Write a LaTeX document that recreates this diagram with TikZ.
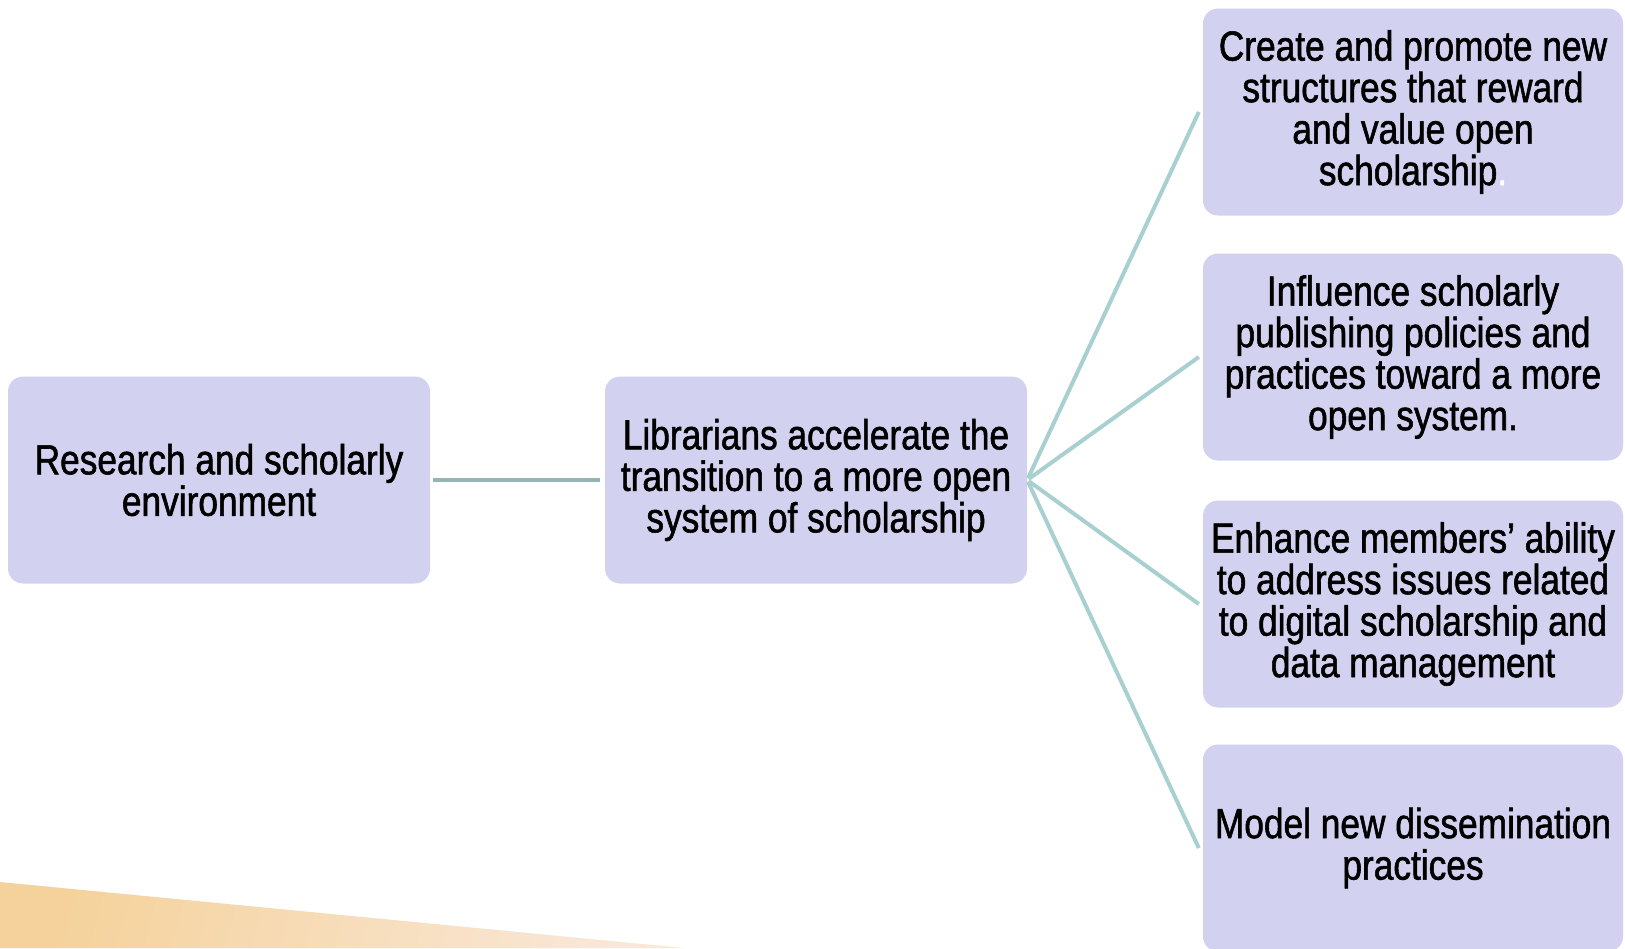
\documentclass[tikz,border=0pt]{standalone}
\usepackage{fontspec}
\setmainfont{Liberation Sans}[FakeStretch=0.84, FakeBold=1.3]
\usepackage{xcolor}
\definecolor{boxfill}{HTML}{D2D2F0}
\definecolor{linkgrey}{HTML}{97B4B4}
\definecolor{linkteal}{HTML}{A8D0D0}
\definecolor{wedgeA}{HTML}{F5D29B}
\definecolor{wedgeB}{HTML}{F9E7D8}

\begin{document}
\begin{tikzpicture}[auto, x=1pt, y=-1pt]
    % Styles for boxes and lines
    \tikzset{
      box/.style={rectangle, rounded corners=15pt, fill=boxfill, align=center, inner sep=0pt,
        minimum width=422pt, minimum height=207pt, font=\fontsize{42}{41.5}\selectfont},
      goal/.style={box, minimum width=420pt},
      link/.style={line width=4pt, linkteal}
    }
    \useasboundingbox (0,0) rectangle (1625,948);

    % Orange wedge at the bottom
    \shade[left color=wedgeA, right color=wedgeB, shading angle=75] (0,882) -- (684,948) -- (0,948) -- cycle;

    % Nodes with explicit coordinates
    \node[box] (env) at (219,480) {Research and scholarly\\environment};
    \node[box] (lib) at (816,480) {Librarians accelerate the\\transition to a more open\\system of scholarship};
    \node[goal] (reward) at (1413,112) {Create and promote new\\structures that reward\\and value open\\scholarship\textcolor{white}{.}};
    \node[goal] (policy) at (1413,357) {Influence scholarly\\publishing policies and\\practices toward a more\\open system.};
    \node[goal] (skills) at (1413,604) {Enhance members’ ability\\to address issues related\\to digital scholarship and\\data management};
    \node[goal] (model) at (1413,848) {Model new dissemination\\practices};

    % Connecting lines
    \draw[link, linkgrey, shorten <=3pt, shorten >=5pt] (env) -- (lib);
    \draw[link, shorten <=2pt] (lib.east) -- ([xshift=-4pt]reward.west);
    \draw[link, shorten <=2pt] (lib.east) -- ([xshift=-4pt]policy.west);
    \draw[link, shorten <=2pt] (lib.east) -- ([xshift=-4pt]skills.west);
    \draw[link, shorten <=2pt] (lib.east) -- ([xshift=-4pt]model.west);

\end{tikzpicture}
\end{document}
